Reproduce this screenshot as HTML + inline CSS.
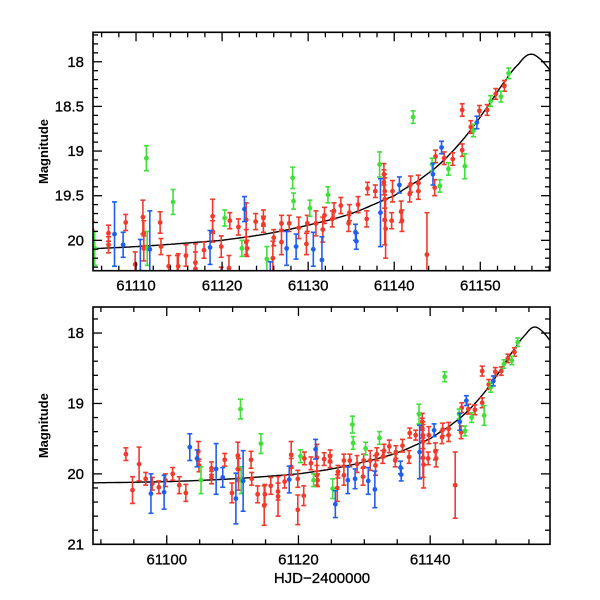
<!DOCTYPE html>
<html><head><meta charset="utf-8"><style>
html,body{margin:0;padding:0;background:#fff;}
svg{display:block;font-family:"Liberation Sans",sans-serif;}
</style></head><body>
<svg id="chart" width="600" height="600" viewBox="0 0 600 600">
<defs>
<clipPath id="c1"><rect x="93" y="32" width="457" height="239"/></clipPath>
<clipPath id="c2"><rect x="93" y="307" width="457" height="237"/></clipPath>
</defs>
</svg>
<script>
// data
const redT=[61093.8,61094.8,61095.8,61096.8,61097.8,61098.8,61099.8,61100.9,61101.9,61102.9,61104.8,61104.9,61106.8,61106.8,61108.8,61109.9,61110.8,61110.9,61110.9,61112.8,61112.9,61113.8,61114.8,61114.9,61115.8,61116.9,61116.9,61117.9,61118.9,61118.9,61119.9,61119.9,61120.8,61120.9,61121.9,61122.8,61122.8,61122.9,61123.9,61124.8,61124.8,61125.9,61126.0,61126.9,61126.9,61127.8,61128.9,61129.8,61129.9,61130.9,61131.7,61131.9,61132.8,61133.0,61133.8,61134.7,61134.8,61135.8,61136.8,61136.9,61137.8,61138.8,61138.8,61138.9,61138.9,61138.9,61139.0,61139.7,61139.8,61140.8,61140.9,61141.8,61141.9,61142.8,61142.8,61143.8,61144.7,61144.8,61145.8,61146.8,61147.9,61147.9,61148.9,61149.9,61150.8,61151.8,61152.8];
const redM=[19.72,20.23,19.86,20.07,20.14,20.19,20.09,20.0,20.16,20.27,19.68,19.88,19.92,20.05,19.80,20.27,19.74,19.92,20.09,19.80,20.07,20.29,20.45,20.29,20.17,20.32,20.25,20.11,19.73,19.90,20.51,20.07,20.31,19.78,19.85,19.77,20.02,20.09,19.79,19.75,19.82,20.20,19.97,19.81,20.02,19.81,19.86,20.04,19.81,19.81,19.88,19.72,19.76,19.67,19.61,19.81,19.69,19.60,19.76,19.42,19.45,19.26,19.35,19.45,19.54,19.77,19.87,19.78,19.45,19.68,19.78,19.48,19.37,19.36,19.45,20.16,19.41,19.06,19.08,19.09,18.54,18.99,18.73,18.55,18.54,18.36,18.27];
const redE=[0.09,0.19,0.24,0.09,0.09,0.09,0.09,0.09,0.12,0.12,0.14,0.09,0.09,0.09,0.09,0.14,0.19,0.14,0.14,0.12,0.09,0.12,0.28,0.14,0.12,0.28,0.12,0.09,0.19,0.12,0.21,0.12,0.14,0.09,0.09,0.19,0.14,0.09,0.09,0.09,0.09,0.19,0.09,0.09,0.14,0.09,0.12,0.12,0.09,0.14,0.14,0.09,0.09,0.09,0.09,0.09,0.09,0.09,0.09,0.07,0.07,0.12,0.14,0.19,0.24,0.28,0.33,0.09,0.12,0.12,0.12,0.09,0.09,0.09,0.09,0.47,0.09,0.07,0.07,0.07,0.07,0.07,0.07,0.06,0.06,0.06,0.06];
const greenT=[61105.2,61111.2,61111.3,61114.3,61120.3,61122.3,61125.2,61128.2,61128.3,61130.2,61132.3,61138.3,61142.2,61144.4,61145.3,61146.3,61148.2,61149.2,61151.2,61152.4,61153.3];
const greenM=[20.09,19.08,20.09,19.57,19.75,20.09,20.21,19.30,19.56,19.64,19.49,19.15,18.62,19.15,19.39,19.20,19.17,18.77,18.44,18.39,18.13];
const greenE=[0.19,0.14,0.19,0.14,0.09,0.09,0.14,0.12,0.09,0.09,0.09,0.14,0.07,0.07,0.07,0.07,0.14,0.07,0.06,0.06,0.06];
const blueT=[61097.6,61099.6,61103.5,61104.6,61107.5,61108.5,61110.5,61111.6,61118.6,61122.6,61125.6,61127.5,61128.6,61130.6,61131.6,61135.5,61135.6,61138.4,61140.6,61144.5,61145.5,61149.6];
const blueM=[20.28,20.26,19.62,19.78,19.93,20.05,20.35,20.10,20.08,19.65,20.43,20.09,20.07,20.10,20.22,19.91,20.01,19.69,19.38,19.26,18.96,18.68];
const blueE=[0.28,0.24,0.19,0.12,0.36,0.14,0.36,0.43,0.19,0.14,0.19,0.19,0.14,0.19,0.26,0.09,0.09,0.38,0.09,0.12,0.07,0.07];
const modelT=[61085,61100,61110,61120,61125,61130,61135,61140,61143,61145,61147,61149,61151,61153,61154.5,61155.6,61156.7,61158.3,61160];
const modelM=[20.13,20.11,20.07,20.0,19.93,19.83,19.7,19.5,19.32,19.17,18.98,18.75,18.48,18.2,18.02,17.92,17.95,18.12,18.35];
const topXTicks=[61110,61120,61130,61140,61150];
const topYTicks=[18,18.5,19,19.5,20];
const botXTicks=[61100,61120,61140];
const botYTicks=[18,19,20,21];

const NS="http://www.w3.org/2000/svg";
const svg=document.getElementById('chart');
function mk(tag,attrs,parent){const e=document.createElementNS(NS,tag);for(const k in attrs)e.setAttribute(k,attrs[k]);(parent||svg).appendChild(e);return e;}

const panels=[
 {name:'top',x0:93,x1:550,y0:32.3,y1:270.7,t0:61105.0,t1:61158.1,m0:17.67,m1:20.34,clip:'c1',xt:topXTicks,yt:topYTicks,xminor:2,yminor:0.1,ylab:[18,18.5,19,19.5,20]},
 {name:'bottom',x0:93,x1:550,y0:307,y1:544.3,t0:61088.8,t1:61158.2,m0:17.63,m1:21.0,clip:'c2',xt:botXTicks,yt:botYTicks,xminor:5,yminor:0.2,ylab:[18,19,20,21],xtitle:true}
];
const series=[
 {n:'red',T:redT,M:redM,E:redE,c:'#f03a2a'},
 {n:'green',T:greenT,M:greenM,E:greenE,c:'#3fe03a'},
 {n:'blue',T:blueT,M:blueM,E:blueE,c:'#1f5ff0'}
];
panels.forEach(p=>{
 const X=t=>p.x0+(t-p.t0)/(p.t1-p.t0)*(p.x1-p.x0);
 const Y=m=>p.y0+(m-p.m0)/(p.m1-p.m0)*(p.y1-p.y0);
 const g=mk('g',{});
 
 
 const pg=mk('g',{'clip-path':'url(#'+p.clip+')'},g);
 
 
 let d='';
 for(let t=p.t0-1;t<=p.t1+1;t+=0.25){
  let i=0;while(i<modelT.length-2&&modelT[i+1]<t)i++;
  const i0=Math.max(0,i-1),i3=Math.min(modelT.length-1,i+2);
  const u=(t-modelT[i])/(modelT[i+1]-modelT[i]);
  const p0=modelM[i0],p1=modelM[i],p2=modelM[i+1],p3=modelM[i3];
  const m=0.5*((2*p1)+(-p0+p2)*u+(2*p0-5*p1+4*p2-p3)*u*u+(-p0+3*p1-3*p2+p3)*u*u*u);
  d+=(d?'L':'M')+X(t).toFixed(1)+' '+Y(m).toFixed(1);
 }
 const curve=mk('path',{d:d,fill:'none',stroke:'#000','stroke-width':1.4},pg);
 
 
 series.forEach(s=>{
  s.T.forEach((t,i)=>{
   const x=X(t),y=Y(s.M[i]),ya=Y(s.M[i]-s.E[i]),yb=Y(s.M[i]+s.E[i]);
   const pt=mk('g',{stroke:s.c,fill:s.c,'stroke-width':1.6},pg);
   
   
   mk('line',{x1:x,x2:x,y1:ya,y2:yb},pt);
   mk('line',{x1:x-2.5,x2:x+2.5,y1:ya,y2:ya},pt);
   mk('line',{x1:x-2.5,x2:x+2.5,y1:yb,y2:yb},pt);
   mk('circle',{cx:x,cy:y,r:2.4,stroke:'none'},pt);
  });
 });
 const fr=mk('rect',{x:p.x0,y:p.y0,width:p.x1-p.x0,height:p.y1-p.y0,fill:'none',stroke:'#000','stroke-width':1.6},g);
 
 
 const tg=mk('g',{stroke:'#000','stroke-width':1.3},g);
 
 
 for(let t=Math.ceil(p.t0/p.xminor)*p.xminor;t<=p.t1;t+=p.xminor){
  const major=p.xt.includes(t);const L=major?9:5;const x=X(t);
  mk('line',{x1:x,x2:x,y1:p.y1,y2:p.y1-L},tg);
  mk('line',{x1:x,x2:x,y1:p.y0,y2:p.y0+L},tg);
 }
 const nmin=Math.round(p.yminor*100);
 for(let k=Math.ceil(p.m0*100/nmin)*nmin;k<=p.m1*100+0.01;k+=nmin){
  const m=k/100;const major=p.yt.some(v=>Math.abs(v-m)<1e-6);const L=major?9:5;const y=Y(m);
  mk('line',{x1:p.x0,x2:p.x0+L,y1:y,y2:y},tg);
  mk('line',{x1:p.x1,x2:p.x1-L,y1:y,y2:y},tg);
 }
 p.xt.forEach(t=>{
  const tx=mk('text',{x:X(t),y:p.y1+20,'text-anchor':'middle','font-size':15,fill:'#000','stroke':'#000','stroke-width':0.3},g);
  tx.textContent=t;
  
  
 });
 p.ylab.forEach(m=>{
  const tx=mk('text',{x:p.x0-9,y:Y(m)+5,'text-anchor':'end','font-size':15,fill:'#000','stroke':'#000','stroke-width':0.3},g);
  tx.textContent=m;
  
  
 });
 const yl=mk('text',{x:0,y:0,'text-anchor':'middle','font-size':13,'font-weight':'bold',fill:'#000',transform:'translate(48,'+((p.y0+p.y1)/2)+') rotate(-90)'},g);
 yl.textContent='Magnitude';
 
 
 if(p.xtitle){
  const xl=mk('text',{x:322,y:583,'text-anchor':'middle','font-size':15,fill:'#000','stroke':'#000','stroke-width':0.3},g);
  xl.textContent='HJD\u22122400000';
  
  
 }
});
</script>
</body></html>
